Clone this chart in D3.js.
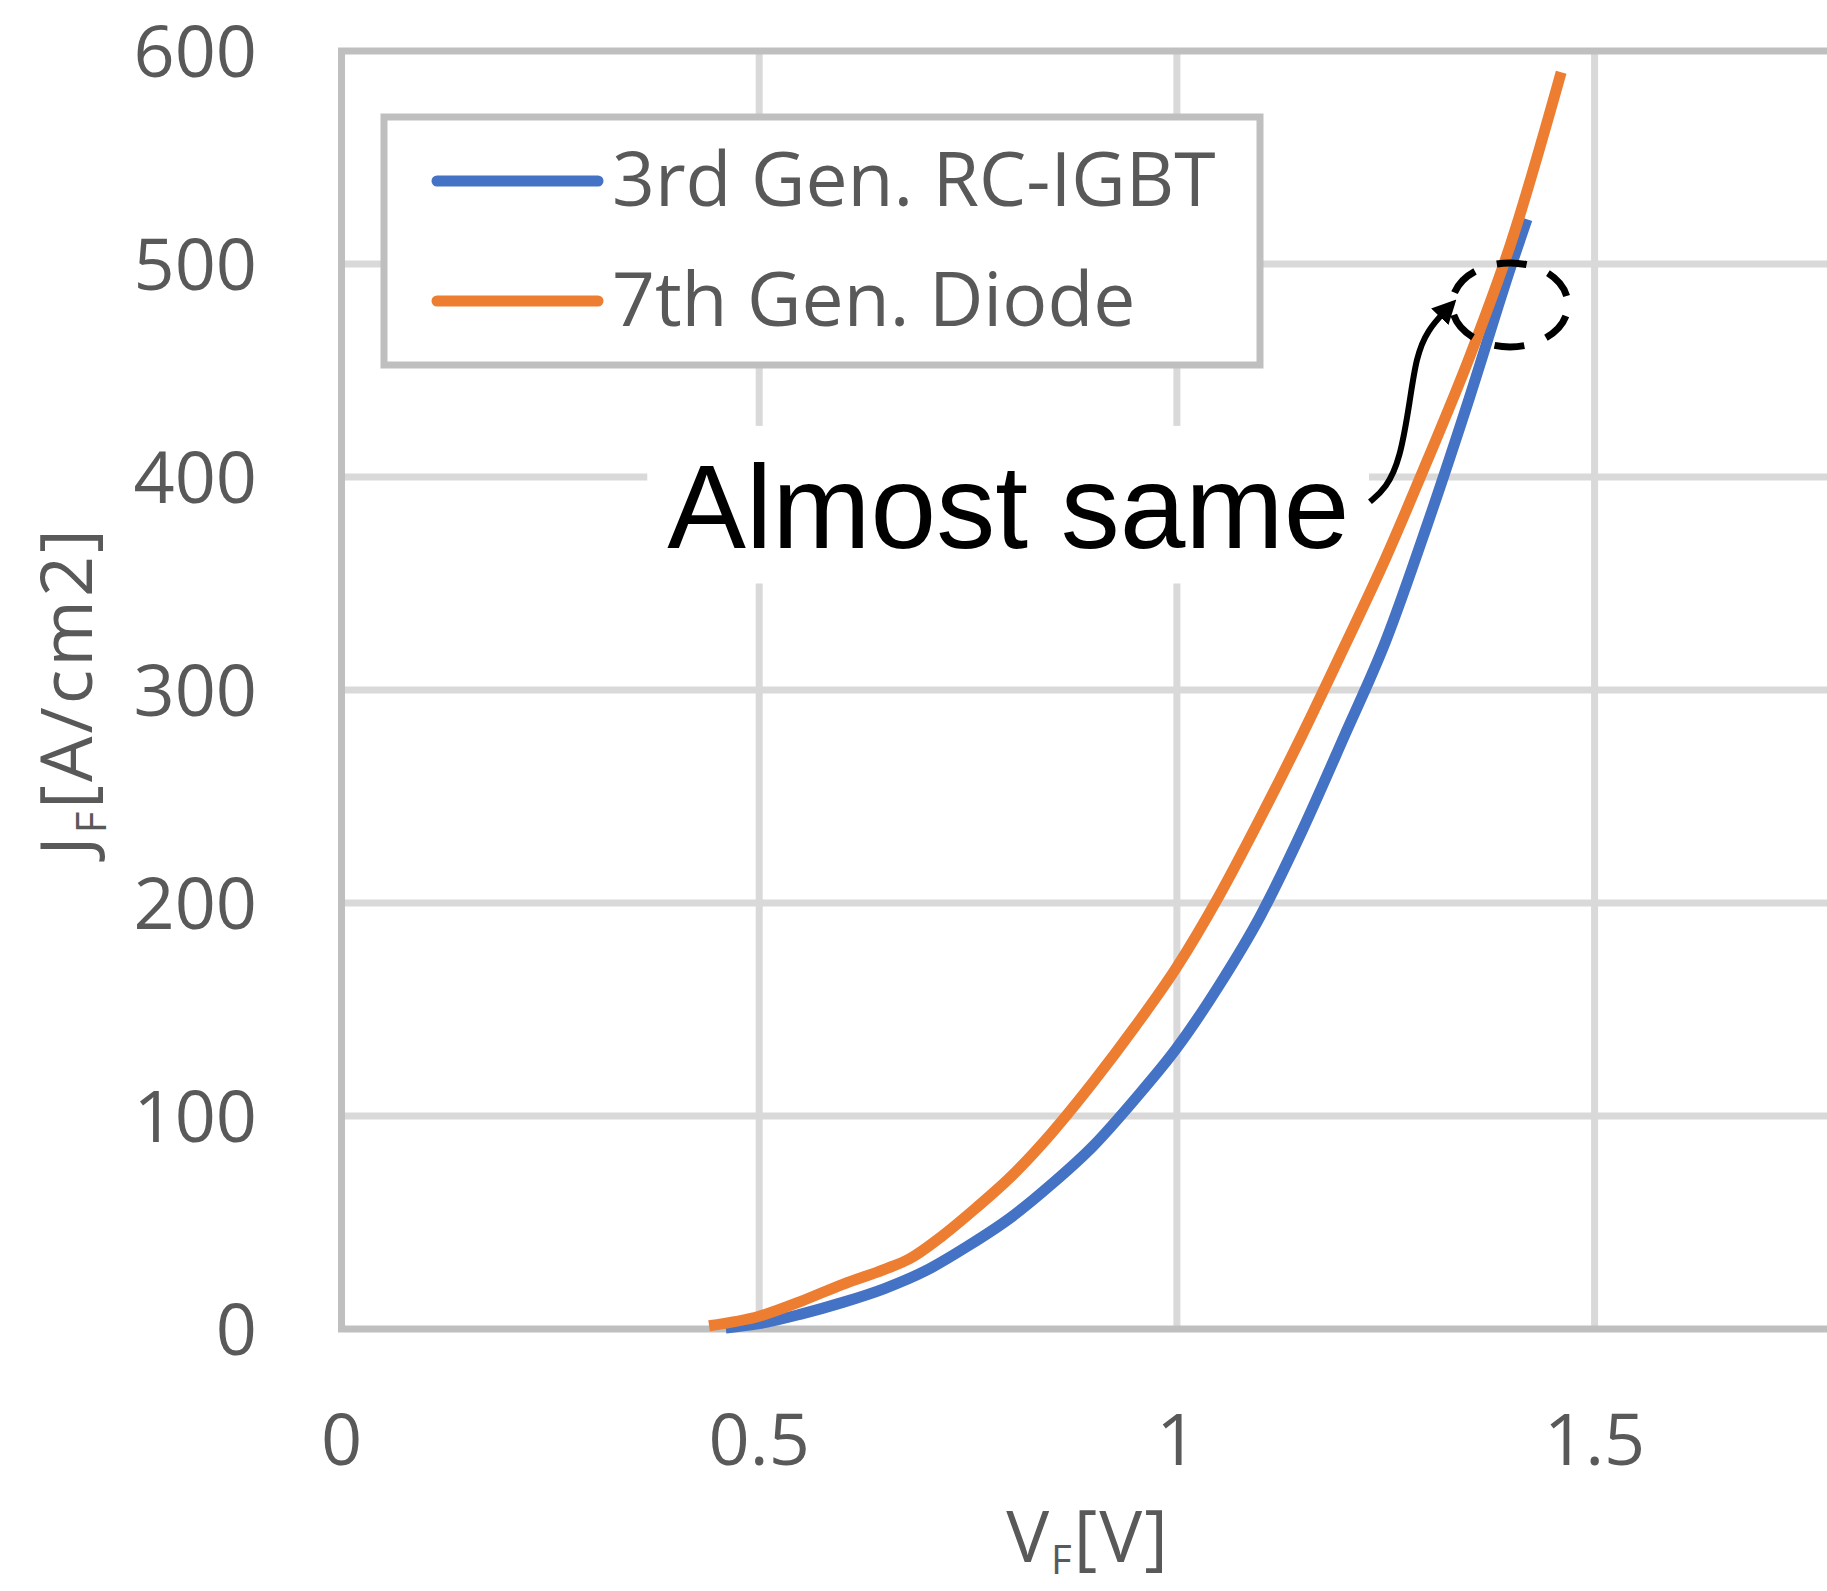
<!DOCTYPE html>
<html lang="en">
<head>
   <meta charset="utf-8">
   <script src="https://d3js.org/d3.v7.min.js"></script>
   <title>JF - VF</title>
   <style>
      body { margin: 0; background: #fff; }
      svg { display: block; }
   </style>
</head>
<body>
   <div id="chart"></div>
   <script>
      // Values
      var vfIgbt = [0.46, 0.50, 0.55, 0.60, 0.65, 0.70, 0.75, 0.80, 0.85, 0.90, 0.95, 1.00, 1.05, 1.10, 1.15, 1.20, 1.25, 1.30, 1.35, 1.40, 1.419];
      var jfIgbt = [0.5, 2.5, 7, 12.5, 19, 27.5, 39, 52, 68, 86, 108, 132, 161, 194, 234, 278, 323, 378, 437, 499, 521];
      var vfDiode = [0.44, 0.50, 0.55, 0.60, 0.65, 0.68, 0.72, 0.76, 0.80, 0.85, 0.90, 0.95, 1.00, 1.05, 1.10, 1.15, 1.20, 1.25, 1.30, 1.35, 1.40, 1.46];
      var jfDiode = [1.5, 6, 13, 21, 28, 33, 44, 57, 71, 92, 116, 142, 170, 203, 240, 279, 320, 362, 408, 456, 510, 590];
      var seriesNames = ["3rd Gen. RC-IGBT", "7th Gen. Diode"];
      var seriesColors = ["#4472C4", "#ED7D31"];
      var xTicks = [0, 0.5, 1, 1.5, 2];
      var yTicks = [0, 100, 200, 300, 400, 500, 600];

      // Annotation ("Almost same" + arrow to the dashed ring)
      var noteText = "Almost same";
      var arrowV = [1.2311, 1.2504, 1.2671, 1.2791, 1.2863, 1.2995, 1.3246];
      var arrowJ = [388.4, 394.8, 408.0, 436.2, 455.9, 469.0, 479.3];

      var W = 1827, H = 1591;
      var gridColor = "#D9D9D9", axisColor = "#BFBFBF", textColor = "#595959";
      var uiFont = "'Open Sans', 'Noto Sans', sans-serif";

      var x = d3.scaleLinear().domain([0, 2]).range([341.5, 2012.3]);
      var y = d3.scaleLinear().domain([0, 600]).range([1329, 51]);

      var svg = d3.select("#chart").append("svg")
         .attr("width", W)
         .attr("height", H);

      // Gridlines
      svg.append("g").selectAll("line")
         .data(yTicks.filter(d => d > 0 && d < 600))
         .enter().append("line")
         .attr("x1", x(0)).attr("x2", x(2))
         .attr("y1", d => y(d)).attr("y2", d => y(d))
         .attr("stroke", gridColor).attr("stroke-width", 7);

      svg.append("g").selectAll("line")
         .data(xTicks.filter(d => d > 0))
         .enter().append("line")
         .attr("x1", d => x(d)).attr("x2", d => x(d))
         .attr("y1", y(0)).attr("y2", y(600))
         .attr("stroke", gridColor).attr("stroke-width", 7);

      // White box behind the annotation text
      svg.append("rect")
         .attr("x", x(0.366)).attr("y", y(424))
         .attr("width", x(1.23) - x(0.366))
         .attr("height", y(350) - y(424))
         .attr("fill", "#fff");

      // Plot border + axis line
      svg.append("path")
         .attr("d", "M" + x(2) + "," + y(600) + "H" + x(0) + "V" + y(0) + "H" + x(2))
         .attr("fill", "none")
         .attr("stroke", axisColor)
         .attr("stroke-width", 7);

      // Tick labels (the 2 V tick falls outside the picture)
      svg.append("g").selectAll("text")
         .data(yTicks)
         .enter().append("text")
         .attr("x", 257)
         .attr("y", d => y(d))
         .attr("dy", "0.36em")
         .attr("text-anchor", "end")
         .style("font-family", uiFont)
         .style("font-size", "72px")
         .style("fill", textColor)
         .text(d => d);

      svg.append("g").selectAll("text")
         .data(xTicks.filter(d => x(d) < W))
         .enter().append("text")
         .attr("x", d => x(d))
         .attr("y", 1465)
         .attr("text-anchor", "middle")
         .style("font-family", uiFont)
         .style("font-size", "72px")
         .style("fill", textColor)
         .text(d => d);

      // Axis titles
      var xt = svg.append("text")
         .attr("x", 1088).attr("y", 1562)
         .attr("text-anchor", "middle")
         .style("font-family", uiFont)
         .style("font-size", "72px")
         .style("letter-spacing", "2px")
         .style("fill", textColor);
      xt.append("tspan").text("V");
      xt.append("tspan").attr("dy", 12).style("font-size", "40px").text("F");
      xt.append("tspan").attr("dy", -12).text("[V]");

      var yt = svg.append("text")
         .attr("transform", "translate(92," + 691 + ") rotate(-90)")
         .attr("text-anchor", "middle")
         .style("font-family", uiFont)
         .style("font-size", "72px")
         .style("letter-spacing", "3px")
         .style("fill", textColor);
      yt.append("tspan").text("J");
      yt.append("tspan").attr("dy", 14).style("font-size", "42px").text("F");
      yt.append("tspan").attr("dy", -14).text("[A/cm2]");

      // Curves
      var line = d3.line()
         .x(d => x(d[0]))
         .y(d => y(d[1]))
         .curve(d3.curveMonotoneX);

      var series = [
         vfIgbt.map((v, i) => [v, jfIgbt[i]]),
         vfDiode.map((v, i) => [v, jfDiode[i]])
      ];

      svg.append("g").selectAll("path")
         .data(series)
         .enter().append("path")
         .attr("d", d => line(d))
         .attr("fill", "none")
         .attr("stroke", (d, i) => seriesColors[i])
         .attr("stroke-width", 11)
         .attr("stroke-linejoin", "round");

      // Legend
      var lg = svg.append("g");
      lg.append("rect")
         .attr("x", 384).attr("y", 117)
         .attr("width", 876).attr("height", 248)
         .attr("fill", "#fff")
         .attr("stroke", axisColor)
         .attr("stroke-width", 7);

      var items = lg.selectAll("g.item")
         .data(seriesNames)
         .enter().append("g")
         .attr("class", "item")
         .attr("transform", (d, i) => "translate(0," + (181 + i * 120) + ")");

      items.append("line")
         .attr("x1", 437).attr("x2", 598)
         .attr("y1", 0).attr("y2", 0)
         .attr("stroke", (d, i) => seriesColors[i])
         .attr("stroke-width", 11)
         .attr("stroke-linecap", "round");

      items.append("text")
         .attr("x", 612)
         .attr("y", 25)
         .style("font-family", uiFont)
         .style("font-size", "75px")
         .style("fill", textColor)
         .text(d => d);

      // Annotation
      svg.append("text")
         .attr("x", x(0.39))
         .attr("y", y(366.8))
         .style("font-family", "'Liberation Sans', Arial, sans-serif")
         .style("font-size", "118px")
         .style("fill", "#000")
         .text(noteText);

      svg.append("defs").append("marker")
         .attr("id", "arrowhead")
         .attr("viewBox", "0 0 10 10")
         .attr("refX", 5).attr("refY", 5)
         .attr("markerUnits", "userSpaceOnUse")
         .attr("markerWidth", 24).attr("markerHeight", 24)
         .attr("orient", "auto")
         .append("path")
         .attr("d", "M0,0 L10,5 L0,10 Z")
         .attr("fill", "#000");

      var arrowLine = d3.line()
         .x(d => x(d[0]))
         .y(d => y(d[1]))
         .curve(d3.curveBasis);

      svg.append("path")
         .attr("d", arrowLine(arrowV.map((v, i) => [v, arrowJ[i]])))
         .attr("fill", "none")
         .attr("stroke", "#000")
         .attr("stroke-width", 6)
         .attr("marker-end", "url(#arrowhead)");

      svg.append("ellipse")
         .attr("cx", x(1.3987)).attr("cy", y(480.8))
         .attr("rx", 58).attr("ry", 42)
         .attr("fill", "none")
         .attr("stroke", "#000")
         .attr("stroke-width", 7)
         .attr("stroke-dasharray", "30,23")
         .attr("stroke-dashoffset", 41.5);
   </script>
</body>
</html>
